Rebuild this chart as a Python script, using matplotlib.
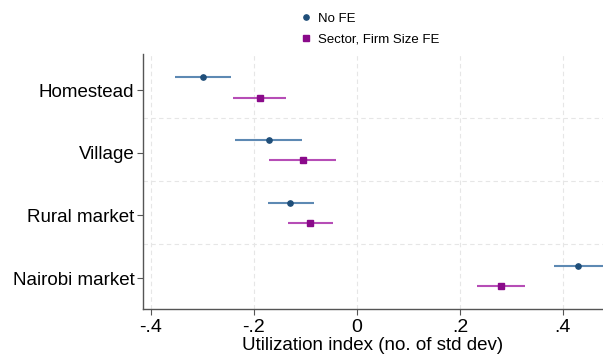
import numpy as np
import matplotlib.pyplot as plt
from matplotlib.lines import Line2D

plt.rcParams['font.family'] = ['Liberation Sans', 'DejaVu Sans']

CATEGORIES = ["Homestead", "Village", "Rural market", "Nairobi market"]

# point estimates and 95% CI, in std dev units
NOFE_EST = [-0.298, -0.171, -0.130, 0.430]
NOFE_LO = [-0.353, -0.236, -0.172, 0.382]
NOFE_HI = [-0.244, -0.107, -0.083, 0.485]

FE_EST = [-0.188, -0.105, -0.091, 0.279]
FE_LO = [-0.240, -0.171, -0.134, 0.234]
FE_HI = [-0.138, -0.041, -0.047, 0.326]

XTICKS = [-0.4, -0.2, 0, 0.2, 0.4]
XTICK_LABELS = ["-.4", "-.2", "0", ".2", ".4"]

NAVY = '#1f4e79'
NAVY_LINE = '#5d89b3'
PURPLE = '#8a0a8a'
PURPLE_LINE = '#b64db6'


def plot_coefs():
    fig = plt.figure(figsize=(6.03, 3.58), dpi=100)
    ax = fig.add_axes([0.2367, 0.1369, 0.7634, 0.7123])

    pos = np.arange(len(CATEGORIES))
    y_nofe = pos - 0.2
    y_fe = pos + 0.12

    # grid first so it sits under the marks
    for x in XTICKS:
        ax.axvline(x, color='#e6e6e6', lw=0.8, ls=(0, (4, 3)), zorder=0)
    for y in pos[:-1] + 0.45:
        ax.axhline(y, color='#e6e6e6', lw=0.8, ls=(0, (4, 3)), zorder=0)

    ax.hlines(y_nofe, NOFE_LO, NOFE_HI, color=NAVY_LINE, lw=1.5, zorder=2)
    ax.plot(NOFE_EST, y_nofe, 'o', color=NAVY, ms=3.8, zorder=3)
    ax.hlines(y_fe, FE_LO, FE_HI, color=PURPLE_LINE, lw=1.5, zorder=2)
    ax.plot(FE_EST, y_fe, 's', color=PURPLE, ms=4.6, zorder=3)

    ax.set_xlim(-0.416, 0.478)
    ax.set_ylim(3.49, -0.574)
    ax.set_yticks(pos)
    ax.set_yticklabels(CATEGORIES, fontsize=13.5)
    ax.set_xticks(XTICKS)
    ax.set_xticklabels(XTICK_LABELS, fontsize=14)
    ax.set_xlabel('Utilization index (no. of std dev)', fontsize=13.5, labelpad=1)

    for s in ['top', 'right']:
        ax.spines[s].set_visible(False)
    for s in ['left', 'bottom']:
        ax.spines[s].set_color('#555555')
        ax.spines[s].set_linewidth(1.0)
    ax.tick_params(colors='#555555', labelcolor='black', length=4, width=0.8, pad=2)
    ax.tick_params(axis='x', pad=3)

    handles = [Line2D([], [], ls='none', marker='o', color=NAVY, ms=3.8),
               Line2D([], [], ls='none', marker='s', color=PURPLE, ms=4.6)]
    fig.legend(handles, ['No FE', 'Sector, Firm Size FE'], frameon=False,
               loc='upper left', bbox_to_anchor=(0.483, 0.99), fontsize=9.5,
               handlelength=0.8, handletextpad=0.5, labelspacing=0.65,
               borderaxespad=0.3)

    fig.savefig('out.png', dpi=100)


plot_coefs()
